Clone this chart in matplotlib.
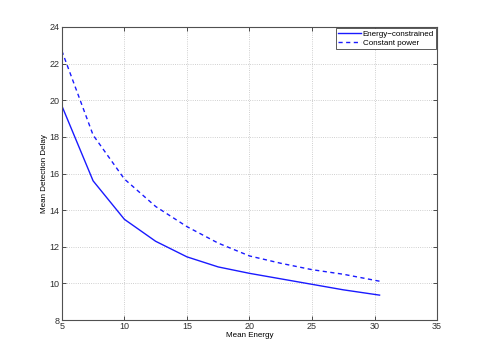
import matplotlib
matplotlib.use("Agg")
import matplotlib.pyplot as plt

plt.rcParams['font.family'] = ['Liberation Sans', 'DejaVu Sans']
plt.rcParams['font.size'] = 6.5

# data
energy = [5, 7.5, 10, 12.5, 15, 17.5, 20, 22.5, 25, 27.5, 30.4]
delay_energy = [19.7, 15.6, 13.5, 12.3, 11.45, 10.9, 10.55, 10.25, 9.95, 9.65, 9.36]
delay_const = [22.7, 18.1, 15.7, 14.2, 13.1, 12.2, 11.5, 11.1, 10.75, 10.5, 10.12]
xticks = [5, 10, 15, 20, 25, 30, 35]
yticks = [8, 10, 12, 14, 16, 18, 20, 22, 24]

fig = plt.figure(figsize=(4.83, 3.6), dpi=100)
ax = fig.add_axes([0.128, 0.111, 0.777, 0.814])

ax.plot(energy, delay_energy, color='#1a1aff', lw=1.0, label='Energy\u2212constrained')
ax.plot(energy, delay_const, color='#1a1aff', lw=1.0, ls=(0, (3, 2.5)), label='Constant power')

ax.set_xlim(5, 35)
ax.set_ylim(8, 24)
ax.set_xticks(xticks)
ax.set_yticks(yticks)
ax.grid(True, ls=':', color='#c0c0c0', lw=0.6)
ax.tick_params(direction='in', length=3, width=0.6, colors='#303030', pad=1.5,
               top=True, right=True, labeltop=False, labelright=False)
for s in ax.spines.values():
    s.set_color('#505050')
    s.set_linewidth(0.8)

ax.set_xlabel('Mean Energy', fontsize=5.8, labelpad=0.5)
ax.set_ylabel('Mean Detection Delay', fontsize=5.8, labelpad=1)

leg = ax.legend(loc='upper right', fontsize=5.8, fancybox=False, framealpha=1,
                borderpad=0.3, handlelength=2.8, handletextpad=0.2,
                labelspacing=0.15, borderaxespad=0.1)
leg.get_frame().set_edgecolor('#404040')
leg.get_frame().set_linewidth(0.6)

fig.savefig('out.png', dpi=100)
